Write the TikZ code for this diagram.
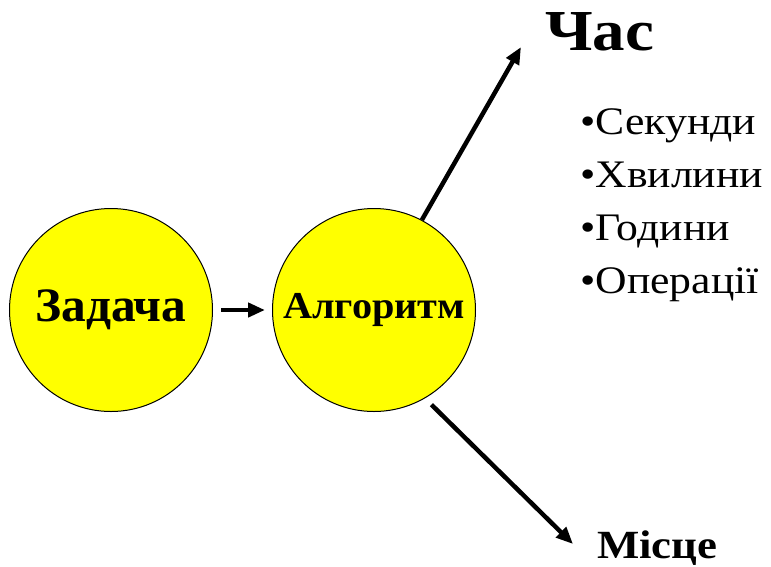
\documentclass[tikz,border=0pt]{standalone}
\usepackage{fontspec}
\setmainfont{Liberation Serif}
\usetikzlibrary{arrows.meta}
\definecolor{ballyellow}{RGB}{255,255,0}
\newcommand{\wide}[2]{\scalebox{#1}[1]{#2}}
\tikzset{
  ball/.style={circle, draw=black, line width=1pt, fill=ballyellow, minimum size=203pt, inner sep=0pt},
  conn/.style={line width=4.5pt, -{Triangle[length=17pt,width=14pt]}},
  lbl/.style={inner sep=0pt, anchor=base west, font=\bfseries},
  item/.style={inner sep=0pt, anchor=base west},
}
\begin{document}
\begin{tikzpicture}[x=1pt,y=-1pt]
\useasboundingbox (0,0) rectangle (771,566);
\node[ball] (zad) at (111,310) {\fontsize{48}{48}\selectfont\bfseries\wide{1.03}{Задача}};
\node[ball] (alg) at (374,310) {\fontsize{38}{38}\selectfont\bfseries\wide{1.06}{Алгоритм}};
\node[lbl, font=\fontsize{58}{58}\selectfont\bfseries] (chas) at (545,50) {\wide{1.12}{Час}};
\node[lbl, font=\fontsize{40}{40}\selectfont\bfseries] (mis) at (597,558) {\wide{1.12}{Місце}};
\node[item, font=\fontsize{39}{39}\selectfont] (s1) at (580,134) {\wide{1.12}{•Секунди}};
\node[item, font=\fontsize{39}{39}\selectfont] (s2) at (580,187) {\wide{1.12}{•Хвилини}};
\node[item, font=\fontsize{39}{39}\selectfont] (s3) at (580,240) {\wide{1.12}{•Години}};
\node[item, font=\fontsize{39}{39}\selectfont] (s4) at (580,293) {\wide{1.12}{•Операції}};
\coordinate (up) at (521,47);
\coordinate (down) at (573,544);
\draw[conn, shorten <=8pt, shorten >=7pt] (zad) -- (alg);
\draw[conn] (alg.62) -- (up);
\draw[conn, shorten <=9pt] (alg.-60.5) -- (down);
\end{tikzpicture}
\end{document}
